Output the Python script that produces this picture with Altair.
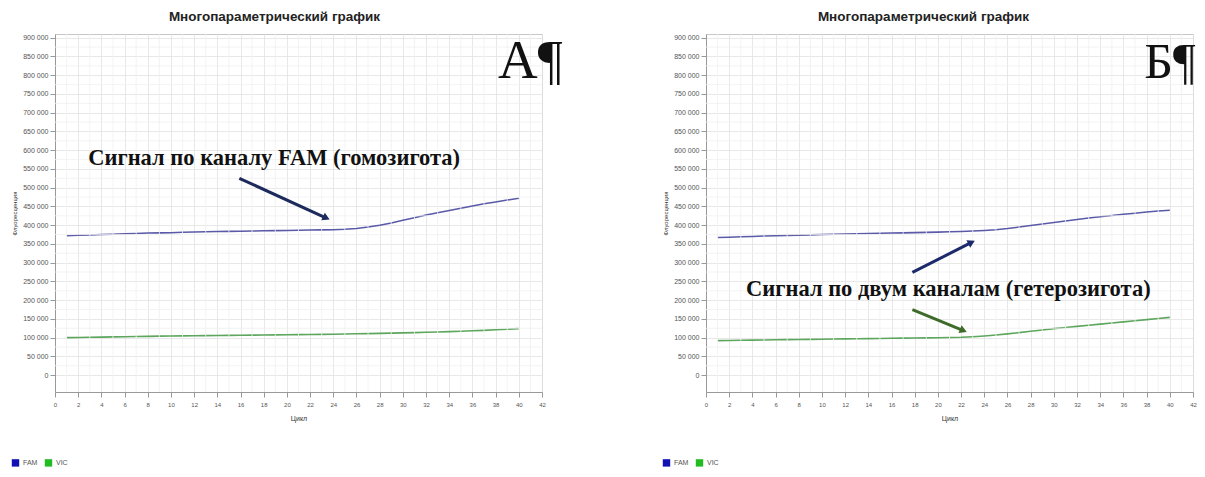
import altair as alt
import pandas as pd

cycles = list(range(1, 41))

fam_a = [372, 373, 374, 375, 376, 377, 378, 379, 379.5, 380, 381, 382, 382.5, 383, 383.5, 384,
         384.5, 385, 385.5, 386, 386.5, 387, 387.5, 388, 389, 391, 395, 400, 406, 413, 420, 427,
         433, 439, 445, 451, 457, 462, 467, 472]
vic_a = [100, 100.5, 101, 101.5, 102, 102.5, 103, 103.5, 104, 104.3, 104.6, 105, 105.3, 105.6, 106,
         106.3, 106.6, 107, 107.3, 107.6, 108, 108.4, 108.8, 109.2, 109.7, 110.2, 110.8, 111.4, 112,
         112.7, 113.4, 114.2, 115, 116, 117, 118.2, 119.5, 121, 122.5, 124]
fam_b = [367, 368, 369, 370, 371, 372, 372.8, 373.5, 374.2, 375, 375.7, 376.4, 377, 377.7, 378.3,
         379, 379.6, 380.2, 380.8, 381.5, 382.3, 383.3, 384.5, 386, 388, 391, 395, 399, 403, 407,
         411, 415, 419, 422.5, 426, 429, 432, 435, 438, 440]
vic_b = [92, 92.5, 93, 93.4, 93.8, 94.2, 94.6, 95, 95.4, 95.8, 96.2, 96.6, 97, 97.4, 97.8, 98.2,
         98.6, 99, 99.4, 99.8, 100.3, 101, 102.5, 104.5, 107, 110, 113.5, 117, 120.5, 124, 127, 130,
         133, 136, 139, 142, 145, 148, 151, 154]

channels = ["FAM", "VIC"]
line_colors = ["#5a5aa8", "#5da65d"]
legend_colors = ["#1212b4", "#22bb22"]

title_text = "Многопараметрический график"
x_title = "Цикл"
y_title = "Флуоресценция"

x_ticks = list(range(0, 43, 2))
x_minor = list(range(1, 42, 2))
y_ticks = list(range(0, 900001, 50000))
y_minor = list(range(25000, 900001, 50000))

# annotations (in data coordinates: cycle, fluorescence)
ann_a_text = ["Сигнал по каналу FAM (гомозигота)"]
ann_a_pos = [(18.9, 579000)]
ann_b_text = ["Сигнал по двум каналам (гетерозигота)"]
ann_b_pos = [(20.9, 231000)]
letter_a = "А¶"
letter_b = "Б¶"
letter_pos = (38.2, 793000)
letter_pos_b = (37.8, 793000)
arrows_a = [(15.9, 525000, 23.4, 419000, "#1c2a5c", 115)]
arrows_b = [(17.8, 274000, 22.9, 354000, "#1c2a6c", 63),
            (17.8, 175000, 22.2, 119000, "#3f6b2a", 112)]

PW, PH = 487, 358

X_AXIS = alt.Axis(values=x_ticks, labelFontSize=6, labelColor="#555",
                  labelOverlap=False, labelFlush=False,
                  titleFontSize=7, titleFontWeight="normal", titleColor="#333",
                  tickColor="#999", domainColor="#999", gridColor="#e2e2e2",
                  titlePadding=7, labelPadding=4)
Y_AXIS = alt.Axis(values=y_ticks, labelFontSize=7, labelOverlap=False, labelFlush=False,
                  labelColor="#555", titleFontSize=6, titleFontWeight="normal",
                  titleColor="#333", tickColor="#999", domainColor="#999",
                  gridColor="#e2e2e2", titlePadding=5,
                  labelExpr="replace(format(datum.value, ','), ',', ' ')")


def panel(fam, vic, ann_text, ann_pos, letter, lpos, lsize, arrows, title_dx):
    rows = []
    for c, f, v in zip(cycles, fam, vic):
        rows.append({"cycle": c, "value": f * 1000, "channel": "FAM"})
        rows.append({"cycle": c, "value": v * 1000, "channel": "VIC"})
    df = pd.DataFrame(rows)

    xsc = alt.Scale(domain=[0, 42], nice=False, zero=False)
    ysc = alt.Scale(domain=[-45000, 910000], nice=False, zero=False)

    def X(f):
        return alt.X(f, scale=xsc, title=x_title, axis=X_AXIS)

    def Y(f):
        return alt.Y(f, scale=ysc, title=y_title, axis=Y_AXIS)

    xgrid = alt.Chart(pd.DataFrame({"g": x_minor})).mark_rule(
        color="#f0f0f0", strokeWidth=0.8).encode(x=X("g:Q"))
    ygrid = alt.Chart(pd.DataFrame({"g": y_minor})).mark_rule(
        color="#f0f0f0", strokeWidth=0.8).encode(y=Y("g:Q"))

    lines = alt.Chart(df).mark_line(strokeWidth=1.6).encode(
        x=X("cycle:Q"), y=Y("value:Q"),
        color=alt.Color("channel:N", scale=alt.Scale(domain=channels, range=line_colors),
                        legend=None),
    )

    legend_layer = alt.Chart(df).transform_filter("datum.cycle < 0").mark_square(
        filled=True, opacity=1).encode(
        x=X("cycle:Q"), y=Y("value:Q"),
        color=alt.Color("channel:N", scale=alt.Scale(domain=channels, range=legend_colors),
                        legend=alt.Legend(orient="none", legendX=-44, legendY=424,
                                          direction="horizontal", title=None,
                                          symbolType="square", symbolSize=55,
                                          labelFontSize=7, labelColor="#555",
                                          columnPadding=6, labelOffset=3)),
    )

    tdf = pd.DataFrame({"cycle": [p[0] for p in ann_pos], "value": [p[1] for p in ann_pos],
                        "text": ann_text})
    texts = alt.Chart(tdf).mark_text(font="Liberation Serif", fontSize=22.5, fontWeight="bold",
                                     color="#111", align="center", baseline="middle").encode(
        x=X("cycle:Q"), y=Y("value:Q"), text="text:N")

    ldf = pd.DataFrame({"cycle": [lpos[0]], "value": [lpos[1]], "text": [letter]})
    letters = alt.Chart(ldf).mark_text(font="Liberation Serif", fontSize=lsize, color="#111",
                                       align="left", baseline="alphabetic").encode(
        x=X("cycle:Q"), y=Y("value:Q"), text="text:N")

    adf = pd.DataFrame({"x": [a[0] for a in arrows], "y": [a[1] for a in arrows],
                        "x2": [a[2] for a in arrows], "y2": [a[3] for a in arrows],
                        "col": [a[4] for a in arrows], "angle": [a[5] for a in arrows]})
    shafts = alt.Chart(adf).mark_rule(strokeWidth=3).encode(
        x=X("x:Q"), y=Y("y:Q"), x2="x2:Q", y2="y2:Q",
        color=alt.Color("col:N", scale=None))
    heads = alt.Chart(adf).mark_point(shape="triangle-up", filled=True, size=70, opacity=1).encode(
        x=X("x2:Q"), y=Y("y2:Q"),
        color=alt.Color("col:N", scale=None), angle=alt.Angle("angle:Q", scale=None))

    return alt.layer(lines, xgrid, ygrid, legend_layer, shafts, heads, texts, letters).properties(
        width=PW, height=PH,
        title=alt.Title(title_text, fontSize=13.5, fontWeight="bold", color="#222",
                        font="Liberation Sans", offset=10, dx=title_dx),
    ).resolve_scale(color="independent")


pa = panel(fam_a, vic_a, ann_a_text, ann_a_pos, letter_a, letter_pos, 55, arrows_a, -24)
pb = panel(fam_b, vic_b, ann_b_text, ann_b_pos, letter_b, letter_pos_b, 50, arrows_b, -26)

chart = alt.hconcat(pa, pb, spacing=164, bounds="flush").resolve_legend(
    color="independent").resolve_scale(color="independent").configure_view(
    stroke="#c8c8c8").configure_axis(gridWidth=0.8).properties(
    padding={"left": 2, "top": 1, "right": 0, "bottom": 0})

chart.save("out.html", embed_options={"renderer": "svg", "actions": False})
